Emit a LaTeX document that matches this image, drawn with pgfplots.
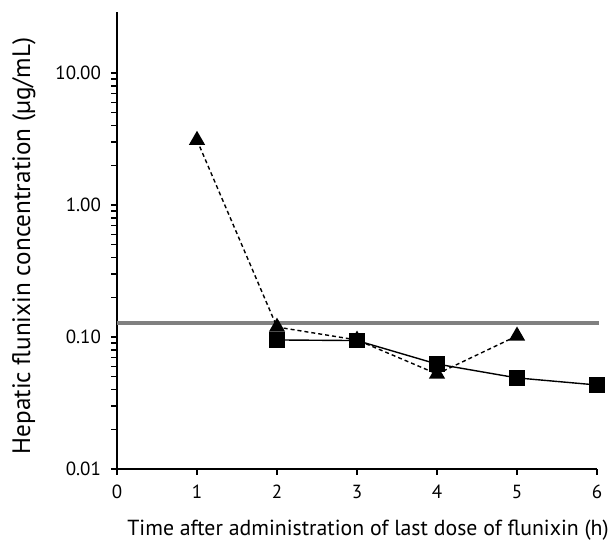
\documentclass[border=0pt]{standalone}
\usepackage{fontspec}
\setmainfont{PT Sans}
\usepackage{pgfplots}
\pgfplotsset{compat=1.18}

\begin{document}
\begin{tikzpicture}
\begin{axis}[
    scale only axis,
    width=240pt, height=228.5pt,
    ymode=log,
    xmin=0, xmax=6,
    ymin=0.01, ymax=29,
    axis lines=left,
    axis line style={-, line width=0.7pt},
    tick align=outside,
    major tick length=3pt,
    tick style={line width=0.7pt, black},
    xtick={0,1,2,3,4,5,6},
    ytick={0.01,0.1,1,10},
    yticklabels={0.01,0.10,1.00,10.00},
    minor ytick={},
    /pgf/number format/assume math mode=true,
    tick label style={font=\fontsize{9.5}{12}\selectfont},
    xticklabel style={yshift=-1.5pt},
    yticklabel style={xshift=-1.5pt},
    xlabel={Time after administration of last dose of flunixin (h)},
    ylabel={Hepatic flunixin concentration (µg/mL)},
    xlabel style={font=\fontsize{10.9}{13}\selectfont,
        at={(axis description cs:0.523,-0.133)}, anchor=center},
    ylabel style={font=\fontsize{12.6}{14}\selectfont,
        at={(axis description cs:-0.194,0.488)}, anchor=center},
    clip=false,
]
\addplot[color=black!50, line width=1.7pt] coordinates {(0,0.128) (6.03,0.128)};
\addplot[black, line width=0.7pt, dash pattern=on 2pt off 1.5pt,
    mark=triangle*, mark size=4pt, mark options={solid}]
    coordinates {(1,3.1) (2,0.119) (3,0.095) (4,0.0525) (5,0.102)};
\addplot[black, line width=0.7pt,
    mark=square*, mark size=3.6pt, mark options={solid}]
    coordinates {(2,0.095) (3,0.094) (4,0.0624) (5,0.049) (6,0.0433)};
\coordinate (bl) at (axis description cs:-0.24375,-0.1554);
\coordinate (tr) at (axis description cs:1.025,1.02626);
\end{axis}
\pgfresetboundingbox
\path (bl) rectangle (tr);
\end{tikzpicture}
\end{document}
